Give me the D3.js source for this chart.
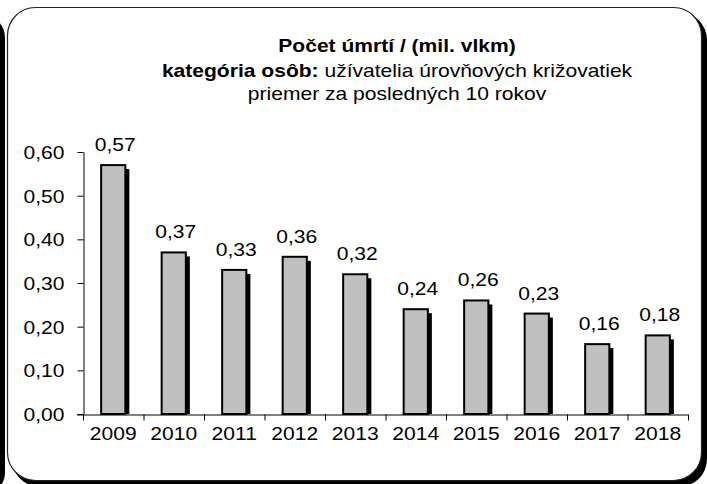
<!DOCTYPE html>
<html>
<head>
<meta charset="utf-8">
<script src="https://cdn.jsdelivr.net/npm/d3@7"></script>
<style>
  body { margin: 0; background: #fff; }
  text { font-family: 'Liberation Sans', Arial, sans-serif; }
</style>
</head>
<body>
<script>
// data
let years = ['2009', '2010', '2011', '2012', '2013', '2014', '2015', '2016', '2017', '2018'];
let values = [0.57, 0.37, 0.33, 0.36, 0.32, 0.24, 0.26, 0.23, 0.16, 0.18];
let yTicks = [0, 0.1, 0.2, 0.3, 0.4, 0.5, 0.6];
let titleLines = ['Počet úmrtí / (mil. vlkm)', 'užívatelia úrovňových križovatiek', 'priemer za posledných 10 rokov'];

let W = 707, H = 484;
let FS = '18px';
let SX = 1.17; // text in the original is a bit wide
let fmt = v => d3.format('.2f')(v).replace('.', ',');

let svg = d3.select('body').append('svg')
  .attr('width', W)
  .attr('height', H);

let defs = svg.append('defs');
defs.append('filter').attr('id', 'soft')
  .append('feGaussianBlur').attr('stdDeviation', 0.5);

// left dark strip (shadow of neighbouring frame)
svg.append('rect')
  .attr('x', -20).attr('y', 20)
  .attr('width', 25).attr('height', 470)
  .attr('rx', 18)
  .attr('fill', '#000')
  .attr('filter', 'url(#soft)');

// frame shadow bottom-right
svg.append('rect')
  .attr('x', 12).attr('y', 12)
  .attr('width', 695).attr('height', 475)
  .attr('rx', 28)
  .attr('fill', '#000')
  .attr('filter', 'url(#soft)');

// frame
svg.append('rect')
  .attr('x', 7.5).attr('y', 7.5)
  .attr('width', 694).attr('height', 473)
  .attr('rx', 28)
  .attr('fill', '#fff')
  .attr('stroke', '#222')
  .attr('stroke-width', 1.2);

// title
let title = svg.append('text')
  .attr('text-anchor', 'middle')
  .attr('font-size', FS)
  .attr('fill', '#000')
  .attr('transform', `translate(397,0) scale(${SX},1)`);
title.append('tspan').attr('x', 0).attr('y', 52)
  .attr('font-weight', 'bold').text(titleLines[0]);
let l2 = title.append('tspan').attr('x', 0).attr('y', 77);
l2.append('tspan').attr('font-weight', 'bold').text('kategória osôb: ');
l2.append('tspan').text(titleLines[1]);
title.append('tspan').attr('x', 0).attr('y', 100).text(titleLines[2]);

// scales
let x = d3.scaleBand()
  .domain(years)
  .range([83, 688])
  .paddingInner(0.6)
  .paddingOuter(0.3);

let y = d3.scaleLinear()
  .domain([0, 0.6])
  .range([414, 152]);

// y axis
let yAxis = svg.append('g')
  .attr('transform', 'translate(83.5,0)')
  .call(d3.axisLeft(y).tickValues(yTicks).tickFormat(fmt).tickSize(6).tickSizeOuter(0));
yAxis.select('.domain').attr('stroke', '#000');
yAxis.selectAll('.tick line').attr('stroke', '#000');
yAxis.selectAll('.tick text')
  .attr('font-size', FS)
  .attr('fill', '#000')
  .attr('x', 0)
  .attr('dy', '0.36em')
  .attr('transform', `translate(-19,0) scale(${SX},1)`);

// bars: shadow
let bw = x.bandwidth();
svg.selectAll('rect.shadow')
  .data(values)
  .enter()
  .append('rect')
  .attr('class', 'shadow')
  .attr('x', (d, i) => x(years[i]) + 4)
  .attr('y', d => y(d) + 4)
  .attr('width', bw)
  .attr('height', d => y(0) - y(d) - 4)
  .attr('fill', '#000')
  .attr('filter', 'url(#soft)');

svg.selectAll('rect.bar')
  .data(values)
  .enter()
  .append('rect')
  .attr('class', 'bar')
  .attr('x', (d, i) => x(years[i]))
  .attr('y', d => y(d))
  .attr('width', bw)
  .attr('height', d => y(0) - y(d))
  .attr('fill', '#c0c0c0')
  .attr('stroke', '#000')
  .attr('stroke-width', 2);

// value labels
svg.selectAll('text.val')
  .data(values)
  .enter()
  .append('text')
  .attr('class', 'val')
  .attr('transform', (d, i) => `translate(${x(years[i]) + bw / 2 + 2},${y(d) - 14}) scale(${SX},1)`)
  .attr('text-anchor', 'middle')
  .attr('font-size', FS)
  .attr('fill', '#000')
  .text(d => fmt(d));

// x axis
let xAxis = svg.append('g')
  .attr('transform', 'translate(0,414.5)')
  .call(d3.axisBottom(x).tickSize(0).tickSizeOuter(0));
xAxis.select('.domain').attr('stroke', '#000').attr('d', 'M77,0.5H688');
xAxis.selectAll('.tick text')
  .attr('font-size', FS)
  .attr('fill', '#000')
  .attr('y', 0)
  .attr('dy', '0.71em')
  .attr('transform', `translate(0,13) scale(${SX},1)`);

// category separators
let step = x.step();
let seps = d3.range(years.length + 1).map(i => 83.5 + i * step);
xAxis.selectAll('line.sep')
  .data(seps)
  .enter()
  .append('line')
  .attr('class', 'sep')
  .attr('x1', d => d).attr('x2', d => d)
  .attr('y1', 0).attr('y2', 6)
  .attr('stroke', '#000');
</script>
</body>
</html>
